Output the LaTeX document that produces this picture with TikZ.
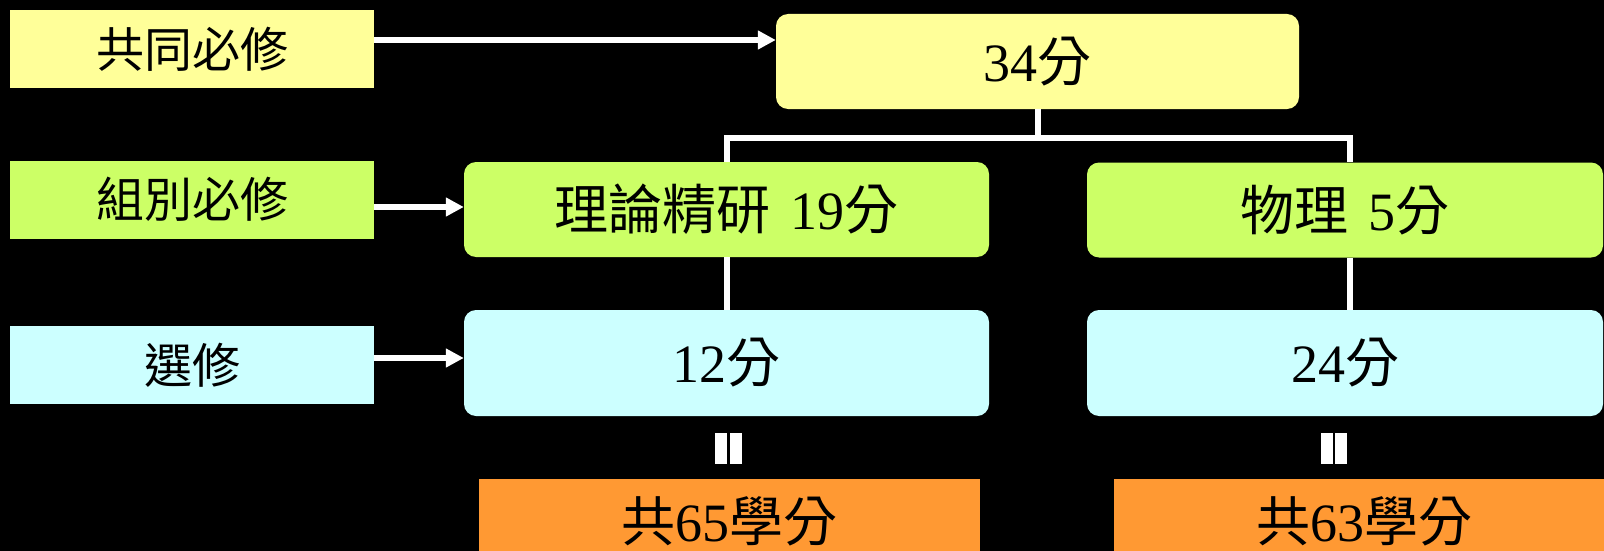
\documentclass[tikz,border=0pt]{standalone}
\usepackage{fontspec}
\setmainfont{Liberation Serif}
\newfontfamily\cjk{Noto Sans CJK TC}
\usetikzlibrary{arrows.meta}
\definecolor{common}{HTML}{FFFF99}
\definecolor{group}{HTML}{CCFF66}
\definecolor{elective}{HTML}{CCFFFF}
\definecolor{total}{HTML}{FF9933}
\begin{document}
\begin{tikzpicture}[x=1pt, y=-1pt,
    lab/.style = {minimum width=364pt, minimum height=78pt, inner sep=0pt, font=\fontsize{48}{56}\selectfont},
    box/.style = {rounded corners=12pt, minimum height=95pt, inner sep=0pt, font=\fontsize{54}{62}\selectfont},
    link/.style = {draw=white, line width=6pt},
    arr/.style = {link, -{Triangle[length=18pt, width=18pt]}},
    bar/.style = {fill=white, minimum width=12pt, minimum height=31pt, inner sep=0pt}]
    \path[use as bounding box, fill=black] (0,0) rectangle (1604,551);
    % left labels
    \node[lab, fill=common] (l1) at (192,49) {\cjk 共同必修};
    \node[lab, fill=group] (l2) at (192,199.5) {\cjk 組別必修};
    \node[lab, fill=elective] (l3) at (192,365) {\cjk 選修};
    % credit boxes
    \node[box, fill=common, minimum width=523pt] (top) at (1037.5,61.5) {34{\cjk 分}};
    \node[box, fill=group, minimum width=525pt] (theory) at (726.5,209.5) {{\cjk 理論精研}\hspace{20pt}19{\cjk 分}};
    \node[box, fill=group, minimum width=516pt] (phys) at (1345,210) {{\cjk 物理}\hspace{20pt}5{\cjk 分}};
    \node[box, fill=elective, minimum width=525pt, minimum height=106pt] (el1) at (726.5,363) {12{\cjk 分}};
    \node[box, fill=elective, minimum width=516pt, minimum height=106pt] (el2) at (1345,363) {24{\cjk 分}};
    \node[box, fill=total, rounded corners=0pt, minimum width=501pt, minimum height=84pt] (tot1) at (729.5,521) {{\cjk 共}65{\cjk 學分}};
    \node[box, fill=total, rounded corners=0pt, minimum width=500pt, minimum height=84pt] (tot2) at (1364,521) {{\cjk 共}63{\cjk 學分}};
    % equals bars
    \node[bar] (b1) at (721,448.5) {};
    \node[bar] (b2) at (736,448.5) {};
    \node[bar] (b3) at (1326.5,448.5) {};
    \node[bar] (b4) at (1341,448.5) {};
    % tree
    \coordinate (jl) at (726.5,138);
    \coordinate (jr) at (1350,138);
    \draw[link] (top.south) -- (top.south |- jl);
    \draw[link] (theory.north) |- (jr) -- (jr |- phys.north);
    \draw[link] (theory.south) -- (el1.north);
    \draw[link] (jr |- phys.south) -- (jr |- el2.north);
    % arrows
    \draw[arr] ([yshift=9pt]l1.east) -- ([yshift=9pt]l1.east -| top.west);
    \draw[arr] ([yshift=-7.5pt]l2.east) -- ([yshift=-7.5pt]l2.east -| theory.west);
    \draw[arr] ([yshift=7pt]l3.east) -- ([yshift=7pt]l3.east -| el1.west);
\end{tikzpicture}
\end{document}
